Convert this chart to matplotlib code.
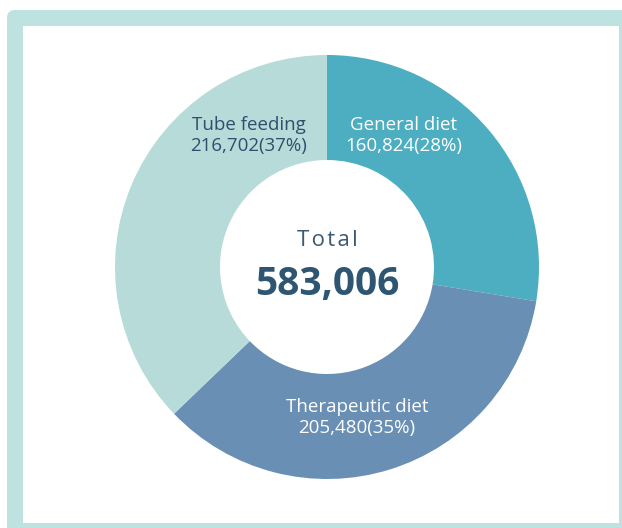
import matplotlib.pyplot as plt
from matplotlib.patches import FancyBboxPatch, Rectangle

# meal counts by diet type
categories = ['General diet', 'Therapeutic diet', 'Tube feeding']
counts = [160824, 205480, 216702]
colors = ['#4caec0', '#6a8fb4', '#b7dbd9']

total = sum(counts)
W, H = 622, 528

fig = plt.figure(figsize=(W / 100, H / 100), dpi=100)
ax = fig.add_axes([0, 0, 1, 1])

# framed panel
ax.add_patch(FancyBboxPatch((7, -30), 660, 548, boxstyle='round,pad=0,rounding_size=8',
                            facecolor='#bde2e0', edgecolor='none'))
ax.add_patch(Rectangle((23, 5), 596, 497, facecolor='white', edgecolor='none'))

cx, cy, r = 327, 261, 212
wedges, _ = ax.pie(counts, colors=colors, startangle=90, counterclock=False,
                   radius=r, center=(cx, cy), frame=True,
                   wedgeprops=dict(width=r - 107, linewidth=0))
ax.set_xlim(0, W)
ax.set_ylim(0, H)
ax.set_aspect('equal')
ax.axis('off')

font = 'Open Sans'
dark = '#2f4f6c'
label_pos = {'General diet': (404, 393, 'white'),
             'Therapeutic diet': (357, 111, 'white'),
             'Tube feeding': (249, 393, dark)}
for name, n in zip(categories, counts):
    x, y, c = label_pos[name]
    pct = round(n / total * 100)
    ax.text(x, y + 10, name, ha='center', va='center', fontsize=13.5, color=c,
            family=font, fontweight='medium')
    ax.text(x, y - 11, f'{n:,}({pct}%)', ha='center', va='center', fontsize=13.5,
            color=c, family=font, fontweight='medium')

ax.text(cx, cy + 26, 'T o t a l'.replace(' ', '\u200a'), ha='center', va='center',
        fontsize=16, color='#3b5a74', family=font)
ax.text(cx, cy - 18, f'{total:,}', ha='center', va='center', fontsize=28,
        fontweight='bold', color='#2e5673', family=font)

fig.savefig('out.png', dpi=100)
